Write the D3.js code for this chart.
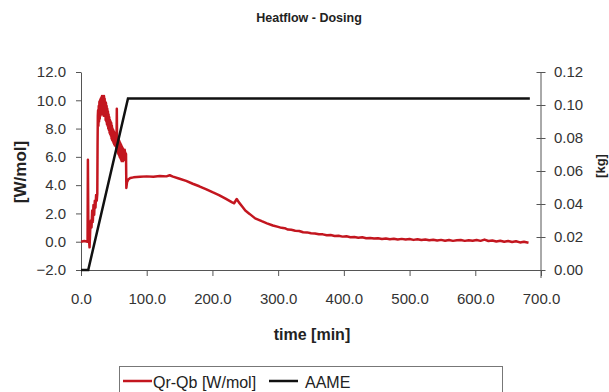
<!DOCTYPE html>
<html><head><meta charset="utf-8">
<script src="https://cdn.jsdelivr.net/npm/d3@7"></script>
<style>
html,body{margin:0;padding:0;background:#fff;}
svg{display:block;font-family:"Liberation Sans",Arial,sans-serif;}
</style></head>
<body>
<svg id="c" width="609" height="392"></svg>
<script>
// ---- data ----
const heatTime = [0,5,10,10.5,11.2,12,13,14,15,16,17,18,19,20,21,22,23,24,24.8,25.2,25.6,26,26.5,27,27.5,28,28.5,29,29.5,30,30.5,31,31.5,32,32.5,33,33.5,34,34.5,35,35.5,36,36.5,37,37.5,38,38.5,39,39.5,40,40.5,41,41.5,42,42.5,43,43.5,44,44.5,45,45.5,46,46.5,47,47.5,48,48.5,49,49.5,50,50.5,51,51.5,52,52.5,53,53.5,54,54.5,55,55.5,56,56.5,57,57.5,58,58.5,59,59.5,60,60.5,61,61.5,62,62.5,63,63.5,64,64.5,65,65.5,66,66.5,67,67.5,68,68.5,69,70,72,75,80,90,100,110,120,130,135,140,150,160,170,180,190,200,210,220,230,233,237,240,245,250,257,265,275,283,292,300,305,310,315,320,326,332,338,344,350,356,362,368,374,380,386,392,398,404,410,416,422,428,434,440,446,452,458,464,470,476,482,488,494,500,506,512,518,524,530,536,542,548,554,560,566,572,578,584,590,596,602,608,614,620,626,632,638,644,650,656,662,668,674,681];
const heatValue = [0.0,0.05,0.0,5.8,0.8,0.3,-0.4,0.8,1.5,1.0,2.2,1.4,2.6,1.9,2.9,2.4,3.3,2.9,3.4,6.8,8.9,9.3,8.2,9.6,8.5,9.9,8.7,10.0,8.9,10.1,9.0,10.2,9.1,10.3,9.2,10.0,9.0,10.2,8.9,10.3,9.1,10.1,9.0,9.9,8.6,9.8,8.5,9.6,8.3,9.4,8.2,9.2,8.0,9.0,7.9,8.8,7.7,8.6,7.6,8.5,7.5,8.4,7.3,8.2,7.2,8.0,7.1,7.9,7.0,7.8,6.9,7.7,6.8,7.6,6.9,7.4,7.2,6.6,9.4,6.4,7.4,6.3,7.3,6.2,7.2,6.1,7.1,6.0,7.0,5.9,6.9,5.8,6.8,5.7,6.7,5.8,6.6,5.7,6.5,5.9,6.4,5.8,6.5,5.9,6.3,5.9,6.2,3.8,4.2,4.4,4.5,4.55,4.6,4.62,4.6,4.65,4.62,4.7,4.6,4.45,4.3,4.1,3.92,3.72,3.5,3.3,3.05,2.78,2.72,3.02,2.8,2.5,2.2,1.95,1.65,1.45,1.3,1.15,1.05,0.98,0.96,0.86,0.84,0.78,0.76,0.67,0.66,0.6,0.58,0.53,0.52,0.46,0.47,0.41,0.42,0.36,0.38,0.32,0.33,0.28,0.31,0.25,0.27,0.22,0.25,0.19,0.23,0.18,0.21,0.16,0.2,0.15,0.19,0.13,0.18,0.12,0.16,0.1,0.14,0.08,0.13,0.07,0.12,0.06,0.1,0.12,0.06,0.11,0.07,0.12,0.06,0.15,0.05,0.09,0.02,0.07,0.0,0.05,-0.02,0.03,-0.05,0.0,-0.07];
const aameTime = [0,11,71.5,683];
const aameValue = [0,0,0.104,0.104];
const xTicks = [0,100,200,300,400,500,600,700];
const yTicks = [-2,0,2,4,6,8,10,12];
const y2Ticks = [0,0.02,0.04,0.06,0.08,0.10,0.12];
const seriesNames = ["Qr-Qb [W/mol]","AAME"];
const seriesColors = ["#c3161f","#111111"];

// ---- chart ----
const svg = d3.select("#c");
const L=81, R=541, T=72, B=270;
const x = d3.scaleLinear().domain([0,700]).range([L,R]);
const y = d3.scaleLinear().domain([-2,12]).range([B,T]);
const y2 = d3.scaleLinear().domain([0,0.12]).range([B,T]);

svg.append("text").attr("x",309).attr("y",22).attr("text-anchor","middle")
  .attr("font-size",12.5).attr("font-weight","bold").attr("fill","#222").text("Heatflow - Dosing");

const axisColor="#555", labelColor="#333";
function style(g){
  g.selectAll("path,line").attr("stroke",axisColor).attr("stroke-width",1);
  g.selectAll("text").attr("fill",labelColor).attr("font-size",15).attr("font-family","Liberation Sans, Arial, sans-serif");
}
const gx = svg.append("g").attr("transform",`translate(0,${B})`)
  .call(d3.axisBottom(x).tickValues(xTicks).tickFormat(d3.format(".1f")).tickSize(6).tickSizeOuter(0).tickPadding(17));
style(gx);
const gy = svg.append("g").attr("transform",`translate(${L},0)`)
  .call(d3.axisLeft(y).tickValues(yTicks).tickFormat(d3.format(".1f")).tickSize(5).tickSizeOuter(0).tickPadding(10));
style(gy);
const gy2 = svg.append("g").attr("transform",`translate(${R},0)`)
  .call(d3.axisRight(y2).tickValues(y2Ticks).tickFormat(d3.format(".2f")).tickSize(5).tickSizeOuter(0).tickPadding(8));
gy2.selectAll(".tick line").attr("x1",-4.5).attr("x2",4.5);
style(gy2);
gy2.select(".domain").attr("d",`M0,${T}V${B+8}`);

const heat = heatTime.map((t,i)=>[t,heatValue[i]]);
const aame = aameTime.map((t,i)=>[t,aameValue[i]]);
svg.append("path").datum(heat).attr("fill","none").attr("stroke",seriesColors[0])
  .attr("stroke-width",2.5).attr("stroke-linejoin","round")
  .attr("d",d3.line().x(d=>x(d[0])).y(d=>y(d[1])));
svg.append("path").datum(aame).attr("fill","none").attr("stroke",seriesColors[1])
  .attr("stroke-width",2.5)
  .attr("d",d3.line().x(d=>x(d[0])).y(d=>y2(d[1])));

svg.append("text").attr("transform","translate(26,172) rotate(-90)").attr("text-anchor","middle")
  .attr("font-size",17).attr("font-weight","bold").attr("fill","#222").text("[W/mol]");
svg.append("text").attr("transform","translate(605,166) rotate(-90)").attr("text-anchor","middle")
  .attr("font-size",13).attr("font-weight","bold").attr("fill","#222").text("[kg]");
svg.append("text").attr("x",312).attr("y",340).attr("text-anchor","middle")
  .attr("font-size",16).attr("font-weight","bold").attr("fill","#222").text("time [min]");

// legend
svg.append("rect").attr("x",119.5).attr("y",366.5).attr("width",383).attr("height",40)
  .attr("fill","#fff").attr("stroke","#777").attr("stroke-width",1);
const lx=[123,269], tx=[153,305];
seriesNames.forEach((n,i)=>{
  svg.append("line").attr("x1",lx[i]).attr("x2",lx[i]+29).attr("y1",381).attr("y2",381)
    .attr("stroke",seriesColors[i]).attr("stroke-width",2.5);
  svg.append("text").attr("x",tx[i]).attr("y",388).attr("font-size",16).attr("fill","#222").text(n);
});
</script>
</body></html>
